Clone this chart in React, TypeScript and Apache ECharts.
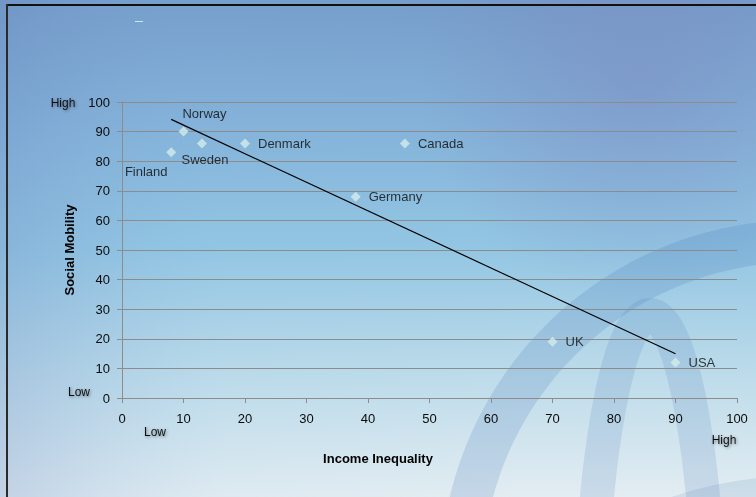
import React, { useEffect, useRef } from "react";
import * as echarts from "echarts";

const countries = ["Finland", "Norway", "Sweden", "Denmark", "Canada", "Germany", "UK", "USA"];
const incomeInequality = [8, 10, 13, 20, 46, 38, 70, 90];
const socialMobility = [83, 90, 86, 86, 86, 68, 19, 12];
const xAxisTitle = "Income Inequality";
const yAxisTitle = "Social Mobility";
const lowLabel = "Low";
const highLabel = "High";

// label placement overrides (style only)
const labelOverrides: Record<string, any> = {
  Finland: { position: "inside", offset: [-25, 19] },
  Norway: { position: "inside", offset: [21, -18] },
  Sweden: { position: "inside", offset: [3, 16] },
};

function regression(xs: number[], ys: number[]) {
  const n = xs.length;
  const mx = xs.reduce((a, b) => a + b, 0) / n;
  const my = ys.reduce((a, b) => a + b, 0) / n;
  let sxy = 0;
  let sxx = 0;
  for (let i = 0; i < n; i++) {
    sxy += (xs[i] - mx) * (ys[i] - my);
    sxx += (xs[i] - mx) * (xs[i] - mx);
  }
  const b = sxy / sxx;
  const a = my - b * mx;
  const x0 = Math.min(...xs);
  const x1 = Math.max(...xs);
  return [
    [x0, a + b * x0],
    [x1, a + b * x1],
  ];
}

export default function App() {
  const ref = useRef<HTMLDivElement>(null);
  useEffect(() => {
    if (!ref.current) return;
    const chart = echarts.init(ref.current, undefined, { renderer: "svg" });
    const font = "'Liberation Sans', Arial, sans-serif";
    const textColor = "#0a0a0a";
    const gridColor = "#8c8c8c";
    const shadowText = {
      fontFamily: font,
      fontSize: 12,
      fill: "#111111",
      textShadowColor: "rgba(0,0,0,0.45)",
      textShadowBlur: 3,
      textShadowOffsetX: 1,
      textShadowOffsetY: 1,
    };
    const points = countries.map((c, i) => {
      const item: any = { name: c, value: [incomeInequality[i], socialMobility[i]] };
      if (labelOverrides[c]) item.label = labelOverrides[c];
      return item;
    });
    chart.setOption({
      animation: false,
      graphic: [
        {
          type: "rect",
          z: -100,
          silent: true,
          shape: { x: 0, y: 0, width: 756, height: 497 },
          style: {
            fill: new echarts.graphic.LinearGradient(0, 0, 0, 1, [
              { offset: 0, color: "#769dca" },
              { offset: 0.25, color: "#84b2d9" },
              { offset: 0.5, color: "#93c6e3" },
              { offset: 0.75, color: "#bcdbea" },
              { offset: 1, color: "#e3edf2" },
            ]),
          },
        },
        {
          type: "rect",
          z: -99,
          silent: true,
          shape: { x: 0, y: 0, width: 756, height: 497 },
          style: {
            fill: new echarts.graphic.LinearGradient(0, 0, 1, 0, [
              { offset: 0, color: "rgba(100,130,190,0.25)" },
              { offset: 0.3, color: "rgba(140,190,230,0.05)" },
              { offset: 0.7, color: "rgba(140,190,230,0.0)" },
              { offset: 1, color: "rgba(140,190,230,0.0)" },
            ]),
          },
        },
        {
          type: "circle",
          z: -98,
          silent: true,
          shape: { cx: 640, cy: 80, r: 220 },
          style: {
            fill: new echarts.graphic.RadialGradient(0.5, 0.5, 0.5, [
              { offset: 0, color: "rgba(125,135,190,0.45)" },
              { offset: 1, color: "rgba(125,135,190,0)" },
            ]),
          },
        },
        {
          type: "ring",
          z: -97,
          silent: true,
          shape: { cx: 800, cy: 580, r: 360, r0: 318 },
          style: { fill: "rgba(55,105,175,0.17)" },
        },
        {
          type: "ellipse",
          z: -97,
          silent: true,
          shape: { cx: 650, cy: 660, rx: 60, ry: 345 },
          style: { fill: "none", stroke: "rgba(55,105,175,0.14)", lineWidth: 34 },
        },
        {
          type: "ellipse",
          z: -97,
          silent: true,
          shape: { cx: 820, cy: 560, rx: 200, ry: 70 },
          style: { fill: "none", stroke: "rgba(55,105,175,0.12)", lineWidth: 30 },
        },
        {
          type: "line",
          z: 50,
          silent: true,
          shape: { x1: 7, y1: 5, x2: 756, y2: 5 },
          style: { stroke: "#111111", lineWidth: 2 },
        },
        {
          type: "line",
          z: 50,
          silent: true,
          shape: { x1: 7, y1: 4, x2: 7, y2: 497 },
          style: { stroke: "#2a2a2a", lineWidth: 2 },
        },
        {
          type: "line",
          z: 50,
          silent: true,
          shape: { x1: 135, y1: 21.5, x2: 143, y2: 21.5 },
          style: { stroke: "#c4ecf2", lineWidth: 1 },
        },
        {
          type: "text",
          z: 50,
          x: 69,
          y: 250,
          rotation: Math.PI / 2,
          style: {
            text: yAxisTitle,
            fontFamily: font,
            fontSize: 13,
            fontWeight: "bold",
            fill: "#000000",
            textAlign: "center",
            textVerticalAlign: "middle",
          },
        },
        {
          type: "text",
          z: 50,
          x: 378,
          y: 458,
          style: {
            text: xAxisTitle,
            fontFamily: font,
            fontSize: 13,
            fontWeight: "bold",
            fill: "#000000",
            textAlign: "center",
            textVerticalAlign: "middle",
          },
        },
        {
          type: "text",
          z: 50,
          x: 63,
          y: 103,
          style: { ...shadowText, text: highLabel, textAlign: "center", textVerticalAlign: "middle" },
        },
        {
          type: "text",
          z: 50,
          x: 79,
          y: 392,
          style: { ...shadowText, text: lowLabel, textAlign: "center", textVerticalAlign: "middle" },
        },
        {
          type: "text",
          z: 50,
          x: 155,
          y: 432,
          style: { ...shadowText, text: lowLabel, textAlign: "center", textVerticalAlign: "middle" },
        },
        {
          type: "text",
          z: 50,
          x: 724,
          y: 440,
          style: { ...shadowText, text: highLabel, textAlign: "center", textVerticalAlign: "middle" },
        },
      ],
      grid: { left: 122, right: 19, top: 102, bottom: 99, containLabel: false },
      xAxis: {
        type: "value",
        min: 0,
        max: 100,
        interval: 10,
        axisLine: { show: true, lineStyle: { color: gridColor, width: 1 } },
        axisTick: { show: true, length: 5, lineStyle: { color: gridColor } },
        axisLabel: { color: textColor, fontSize: 13, fontFamily: font, margin: 14 },
        splitLine: { show: false },
      },
      yAxis: {
        type: "value",
        min: 0,
        max: 100,
        interval: 10,
        axisLine: { show: true, lineStyle: { color: gridColor, width: 1 } },
        axisTick: { show: true, length: 5, lineStyle: { color: gridColor } },
        axisLabel: { color: textColor, fontSize: 13, fontFamily: font, margin: 12 },
        splitLine: { show: true, lineStyle: { color: gridColor, width: 1 } },
      },
      series: [
        {
          type: "scatter",
          symbol: "diamond",
          symbolSize: 10,
          itemStyle: { color: "#d3ecea" },
          label: {
            show: true,
            formatter: "{b}",
            position: "right",
            distance: 8,
            color: textColor,
            fontSize: 13,
            fontFamily: font,
          },
          data: points,
          z: 3,
        },
        {
          type: "line",
          data: regression(incomeInequality, socialMobility),
          symbol: "none",
          lineStyle: { color: "#000000", width: 1.2 },
          silent: true,
          z: 4,
        },
      ],
    });
    return () => chart.dispose();
  }, []);
  return (
    <div
      ref={ref}
      style={{ position: "fixed", left: 0, top: 0, width: 756, height: 497 }}
    />
  );
}
